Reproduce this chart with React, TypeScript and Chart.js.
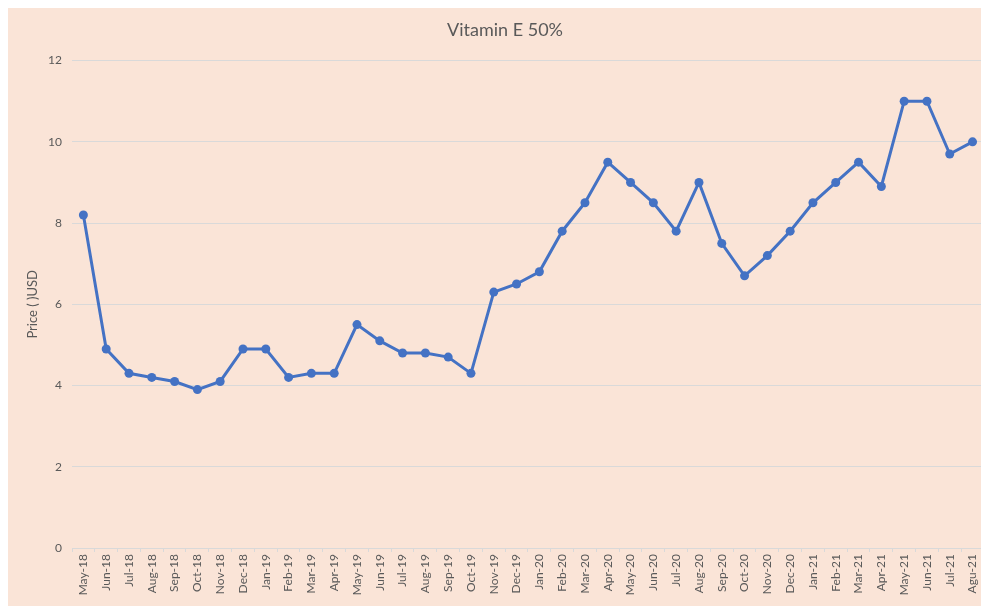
import React, { useEffect, useRef } from "react";
import { Chart, registerables } from "chart.js";

Chart.register(...registerables);

const title = "Vitamin E 50%";
const yAxisTitle = "Price ( )USD";

const categories = [
  "May-18", "Jun-18", "Jul-18", "Aug-18", "Sep-18", "Oct-18", "Nov-18", "Dec-18",
  "Jan-19", "Feb-19", "Mar-19", "Apr-19", "May-19", "Jun-19", "Jul-19", "Aug-19",
  "Sep-19", "Oct-19", "Nov-19", "Dec-19", "Jan-20", "Feb-20", "Mar-20", "Apr-20",
  "May-20", "Jun-20", "Jul-20", "Aug-20", "Sep-20", "Oct-20", "Nov-20", "Dec-20",
  "Jan-21", "Feb-21", "Mar-21", "Apr-21", "May-21", "Jun-21", "Jul-21", "Agu-21",
];

const prices = [
  8.2, 4.9, 4.3, 4.2, 4.1, 3.9, 4.1, 4.9,
  4.9, 4.2, 4.3, 4.3, 5.5, 5.1, 4.8, 4.8,
  4.7, 4.3, 6.3, 6.5, 6.8, 7.8, 8.5, 9.5,
  9.0, 8.5, 7.8, 9.0, 7.5, 6.7, 7.2, 7.8,
  8.5, 9.0, 9.5, 8.9, 11.0, 11.0, 9.7, 10.0,
];

const yMin = 0;
const yMax = 12;
const yStep = 2;

export default function App() {
  const canvasRef = useRef<HTMLCanvasElement | null>(null);

  useEffect(() => {
    if (!canvasRef.current) return;
    const textColor = "#595959";
    const gridColor = "#D9D9D9";
    const chart = new Chart(canvasRef.current, {
      type: "line",
      data: {
        labels: categories,
        datasets: [
          {
            label: title,
            data: prices,
            borderColor: "#4472C4",
            backgroundColor: "#4472C4",
            borderWidth: 3,
            pointRadius: 4.5,
            pointBorderWidth: 0,
            pointBackgroundColor: "#4472C4",
            tension: 0,
          },
        ],
      },
      options: {
        animation: false,
        responsive: false,
        maintainAspectRatio: false,
        layout: { padding: { left: 17, right: 4, top: 0, bottom: 0 } },
        plugins: {
          legend: { display: false },
          tooltip: { enabled: false },
          title: {
            display: true,
            text: title,
            color: textColor,
            font: { family: "Lato", size: 18, weight: "normal" },
            padding: { top: 11, bottom: 20 },
          },
        },
        scales: {
          x: {
            type: "category",
            offset: true,
            grid: {
              display: true,
              drawOnChartArea: false,
              drawTicks: true,
              offset: true,
              tickLength: 4,
              color: gridColor,
            },
            border: { display: true, color: gridColor },
            ticks: {
              autoSkip: false,
              minRotation: 90,
              maxRotation: 90,
              padding: 2,
              color: textColor,
              font: { family: "Lato", size: 12 },
            },
            afterFit: (scale: any) => {
              scale.height = 58;
            },
          },
          y: {
            min: yMin,
            max: yMax,
            ticks: {
              stepSize: yStep,
              padding: 10,
              color: textColor,
              font: { family: "Lato", size: 12 },
            },
            grid: { color: gridColor, drawTicks: false, lineWidth: 1 },
            border: { display: false },
            title: {
              display: true,
              text: yAxisTitle,
              color: textColor,
              font: { family: "Lato", size: 13 },
              padding: 0,
            },
            afterFit: (scale: any) => {
              scale.width = 47;
            },
          },
        },
      },
    });
    return () => chart.destroy();
  }, []);

  return (
    <div style={{ width: 981, height: 598, background: "#FAE4D7" }}>
      <canvas ref={canvasRef} width={981} height={598} style={{ display: "block" }} />
    </div>
  );
}
